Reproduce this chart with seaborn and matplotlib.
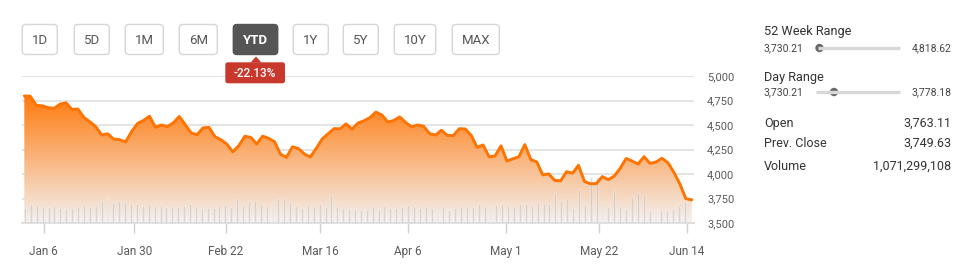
import numpy as np
import pandas as pd
import matplotlib
matplotlib.use("Agg")
import matplotlib.pyplot as plt
import seaborn as sns
from matplotlib.patches import FancyBboxPatch, Polygon, Circle
from matplotlib.lines import Line2D
from matplotlib.transforms import Affine2D
from matplotlib.ticker import FuncFormatter

# ---------------- data ----------------
close = [
    4796.56, 4793.54, 4700.58, 4696.05, 4677.03, 4670.29, 4713.07, 4726.35, 4659.03, 4662.85,
    4577.11, 4532.76, 4482.73, 4397.94, 4410.13, 4356.45, 4349.93, 4326.51, 4431.85, 4515.55,
    4546.54, 4589.38, 4477.44, 4500.53, 4483.87, 4521.54, 4587.18, 4504.08, 4418.64, 4401.67,
    4471.07, 4475.01, 4380.26, 4348.87, 4304.76, 4225.50, 4288.70, 4384.65, 4373.94,
    4306.26, 4386.54, 4363.49, 4328.87, 4201.09, 4170.70, 4277.88, 4259.52, 4204.31, 4173.11,
    4262.45, 4357.86, 4411.67, 4463.12, 4461.18, 4511.61, 4456.24, 4520.16, 4543.06, 4575.52,
    4631.60, 4602.45, 4530.41,
    4545.86, 4582.64, 4525.12, 4481.15, 4500.21, 4488.28, 4412.53, 4397.45, 4446.59, 4392.59,
    4391.69, 4462.21, 4459.45, 4393.66, 4271.78, 4296.12, 4175.20, 4183.96, 4287.50, 4131.93,
    4155.38, 4175.48, 4300.17, 4146.87, 4123.34, 3991.24, 4001.05, 3935.18, 3930.08, 4023.89,
    4008.01, 4088.85, 3923.68, 3900.79, 3901.36, 3973.75, 3941.48, 3978.73, 4057.84, 4158.24,
    4132.15,
    4101.23, 4176.82, 4108.54, 4121.43, 4160.68, 4115.77, 4017.82, 3900.86, 3749.63, 3735.48,
]

volume_bn = [
    2.50, 3.22, 3.05, 2.72, 2.72, 2.88, 2.50, 2.33, 2.50, 2.72,
    3.05, 2.72, 2.88, 3.62, 4.38, 3.45, 3.62, 3.45, 3.22, 3.22,
    2.88, 3.22, 2.88, 2.88, 2.72, 2.72, 2.72, 2.88, 3.22, 2.72,
    2.50, 2.50, 2.50, 2.88, 3.05, 2.72, 4.00, 3.05, 3.62, 3.62,
    3.22, 2.88, 3.45, 4.00, 4.17, 3.45, 2.88, 2.50, 3.05, 2.88,
    3.22, 2.72, 4.72, 2.72, 2.50, 2.33, 2.33,
    2.17, 2.17, 2.72, 2.33, 2.88, 2.50, 2.50, 2.72, 3.05, 2.88,
    2.50, 2.72, 2.50, 2.33, 2.72, 2.17, 2.50, 2.72, 2.88, 2.72,
    3.22, 2.88, 2.88, 3.05, 3.22, 3.05, 2.72, 3.22, 3.22, 3.05,
    3.45, 3.22, 3.22, 5.05, 3.62, 4.00, 2.50, 5.62, 3.05, 7.67,
    7.67, 2.72, 2.72, 5.45, 2.72, 2.33, 4.33, 5.05, 4.72, 1.95,
    2.17, 2.17, 1.95, 2.33, 2.88, 3.45,
]

x_tick_pos = [3.24, 18.49, 33.8, 49.62, 64.39, 80.84, 96.44, 111.21]
x_tick_labels = ["Jan 6", "Jan 30", "Feb 22", "Mar 16", "Apr 6", "May 1", "May 22", "Jun 14"]
y_ticks = [3500, 3750, 4000, 4250, 4500, 4750, 5000]

buttons = ["1D", "5D", "1M", "6M", "YTD", "1Y", "5Y", "10Y", "MAX"]
active_button = "YTD"
ytd_change = "-22.13%"

range_titles = ["52 Week Range", "Day Range"]
range_low = ["3,730.21", "3,730.21"]
range_high = ["4,818.62", "3,778.18"]
stat_labels = ["Open", "Prev. Close", "Volume"]
stat_values = ["3,763.11", "3,749.63", "1,071,299,108"]

# ---------------- style ----------------
sns.set_style("white")
plt.rcParams["font.family"] = ["Roboto", "DejaVu Sans"]

W, H = 968, 277
fig = plt.figure(figsize=(W / 100, H / 100), dpi=100)
fig.patch.set_facecolor("white")
T = Affine2D().scale(1 / 100, -1 / 100).translate(0, H / 100) + fig.dpi_scale_trans


def rect(x0, y0, x1, y1):
    return [x0 / W, 1 - y1 / H, (x1 - x0) / W, (y1 - y0) / H]


plot_rect = rect(22, 76, 694, 223)
idx = np.arange(len(close))
df = pd.DataFrame({"i": idx, "close": close, "vol": volume_bn})

line_xlim = (-0.386, len(close) - 1 + 0.386)
ylim = (3500, 5000)

# ---- main axes: grid + gradient area ----
ax = fig.add_axes(plot_rect)
ax.set_facecolor("white")
n = 256
g = np.linspace(0, 1, n)[:, None, None]
c_bot = np.array([244, 241, 241]) / 255
c_top = np.array([255, 122, 12]) / 255
img = c_bot + (c_top - c_bot) * g
im = ax.imshow(img, extent=[0, len(close) - 1, 3500, max(close)], origin="lower",
               aspect="auto", zorder=1, interpolation="bilinear")
poly = ax.fill_between(df["i"], df["close"], 3500, facecolor="none", edgecolor="none")
im.set_clip_path(poly.get_paths()[0], transform=ax.transData)
ax.set_xlim(*line_xlim)
ax.set_ylim(*ylim)
ax.set_axisbelow(True)
ax.grid(axis="y", color="#e2e2e2", lw=1.3)
ax.grid(axis="x", visible=False)
for s in ["top", "left", "right"]:
    ax.spines[s].set_visible(False)
ax.spines["bottom"].set_color("#dadada")
ax.spines["bottom"].set_linewidth(1.2)
ax.set_xticks(x_tick_pos)
ax.set_xticklabels(x_tick_labels)
ax.yaxis.tick_right()
ax.set_yticks(y_ticks)
ax.yaxis.set_major_formatter(FuncFormatter(lambda v, p: f"{int(v):,}"))
ax.tick_params(axis="x", length=7.2, width=1, color="#d0d0d0", labelcolor="#5a5a5a",
               labelsize=8.5, pad=8.5, bottom=True)
ax.tick_params(axis="y", length=0, pad=9.4, labelsize=8, labelcolor="#5a5a5a")

# ---- volume bars ----
axb = fig.add_axes(plot_rect, facecolor="none")
sns.barplot(data=df, x="i", y="vol", ax=axb, color="#9a9a9a", width=0.33,
            saturation=1, errorbar=None, alpha=0.36)
axb.set_xlim(-0.509, 113.53)
axb.set_ylim(0, 24.5)
axb.axis("off")

# ---- price line ----
axl = fig.add_axes(plot_rect, facecolor="none")
sns.lineplot(data=df, x="i", y="close", ax=axl, color="#ff7300", lw=2.1)
axl.set_xlim(*line_xlim)
axl.set_ylim(*ylim)
axl.axis("off")

# ---- buttons ----
btn_x = [(22.3, 57.3), (74.3, 109.3), (125.3, 163.3), (179.3, 217.3), (233.3, 277.7),
         (293.3, 328.3), (343.3, 378.3), (394.3, 435.7), (452.3, 499.3)]
for lab, (x0, x1) in zip(buttons, btn_x):
    act = lab == active_button
    fig.patches.append(FancyBboxPatch((x0, 24.5), x1 - x0, 30, boxstyle="round,pad=0,rounding_size=3.5",
                                      transform=T, facecolor="#555555" if act else "white",
                                      edgecolor="#555555" if act else "#d6d6d6", lw=1.0))
    fig.text((x0 + x1) / 2, 40, lab, transform=T, ha="center", va="center",
             fontsize=9.5, color="white" if act else "#555555",
             fontweight="bold" if act else "normal")

# ---- tooltip ----
fig.patches.append(FancyBboxPatch((225.3, 62.3), 59.7, 21, boxstyle="round,pad=0,rounding_size=2.5",
                                  transform=T, facecolor="#c9382d", edgecolor="none"))
fig.patches.append(Polygon([(250.5, 62.6), (261.5, 62.6), (256, 56.5)], closed=True,
                           transform=T, facecolor="#c9382d", edgecolor="none"))
fig.text(255.2, 73.3, ytd_change, transform=T, ha="center", va="center", fontsize=8.5,
         color="white", fontweight="medium")

# ---- right panel ----
title_y = [32, 77]
bar_y = [48, 92]
track_x = [(818, 900), (816, 900)]
knob_x = [819.5, 834]
for t, lo, hi, ty, by, (tx0, tx1), kx in zip(range_titles, range_low, range_high, title_y, bar_y,
                                              track_x, knob_x):
    fig.text(764, ty, t, transform=T, ha="left", va="center", fontsize=9.2, color="#333333")
    fig.text(764, by, lo, transform=T, ha="left", va="center", fontsize=7.5, color="#444444")
    fig.text(951, by, hi, transform=T, ha="right", va="center", fontsize=7.5, color="#444444")
    fig.lines.append(Line2D([tx0, tx1], [by, by], transform=T, color="#d8d8d8", lw=2.4,
                            solid_capstyle="butt"))
    fig.patches.append(Circle((kx, by), 4.2, transform=T, facecolor="#6a6a6a", edgecolor="none"))

stat_y = [123, 143.5, 166]
for lab, val, yy in zip(stat_labels, stat_values, stat_y):
    fig.text(764, yy, lab, transform=T, ha="left", va="center", fontsize=9, color="#333333")
    fig.text(951, yy, val, transform=T, ha="right", va="center", fontsize=9, color="#333333")

fig.savefig("out.png", dpi=100, facecolor="white")
